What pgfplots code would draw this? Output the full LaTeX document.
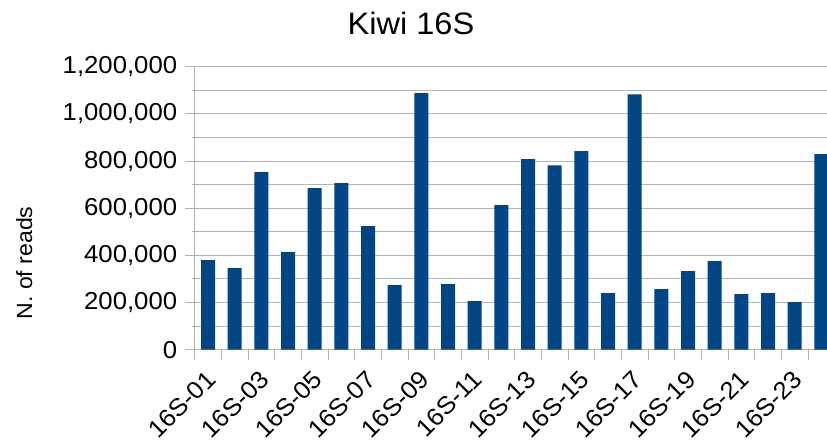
\documentclass[border=0pt]{standalone}
\usepackage{fontspec}
\setmainfont[FakeStretch=1.05]{Liberation Sans}
\usepackage{pgfplots}
\pgfplotsset{compat=1.18}

\definecolor{barblue}{HTML}{004586}
\definecolor{gridgray}{HTML}{B3B3B3}

\begin{document}
\begin{tikzpicture}[x=1pt,y=1pt]
\path[use as bounding box] (0,0) rectangle (827,443);

% chart title and y-axis title
\node[anchor=base, font=\fontsize{31}{36}\selectfont] at (411,408) {Kiwi 16S};
\node[anchor=base, rotate=90, font=\fontsize{22}{26}\selectfont] at (32,180) {N. of reads};

\begin{axis}[
  at={(194.7pt,93.3pt)}, anchor=south west,
  scale only axis, width=632.3pt, height=283pt,
  xmin=-0.5, xmax=23.21,
  ymin=0, ymax=1200000,
  axis x line*=bottom, axis y line*=left,
  axis line style={gridgray, line width=1pt, -},
  every tick/.style={gridgray, line width=1pt},
  tick align=outside, major tick length=10pt,
  ytick={0,200000,...,1200000},
  minor ytick={100000,300000,...,1100000},
  ymajorgrids, yminorgrids,
  major grid style={gridgray, line width=1pt},
  minor grid style={gridgray, line width=1pt},
  scaled y ticks=false,
  yticklabel style={/pgf/number format/fixed, /pgf/number format/1000 sep={,},
    /pgf/number format/assume math mode=true,
    font=\fontsize{24.5}{28}\selectfont, xshift=-4pt},
  % category boundaries carry the tick marks
  xtick={-0.5,0.5,...,22.5},
  xticklabels={},
  % every second category is named
  extra x ticks={0,2,...,22},
  extra x tick labels={16S-01,16S-03,16S-05,16S-07,16S-09,16S-11,16S-13,16S-15,16S-17,16S-19,16S-21,16S-23},
  extra x tick style={major tick length=0pt,
    xticklabel style={inner sep=2pt, xshift=-3pt, yshift=-16pt, rotate=45, anchor=north east,
      font=\fontsize{24.5}{28}\selectfont}},
  clip=true,
]
\addplot[ybar, bar width=0.525, fill=barblue, draw=none, bar shift=0pt]
  coordinates {
  (0,380000) (1,346000) (2,753000) (3,414000) (4,685000) (5,706000)
  (6,524000) (7,274000) (8,1088000) (9,278000) (10,206000) (11,613000)
  (12,808000) (13,782000) (14,842000) (15,240000) (16,1083000) (17,257000)
  (18,333000) (19,376000) (20,236000) (21,240000) (22,202000) (23,829000)
  };
\end{axis}
\end{tikzpicture}
\end{document}
